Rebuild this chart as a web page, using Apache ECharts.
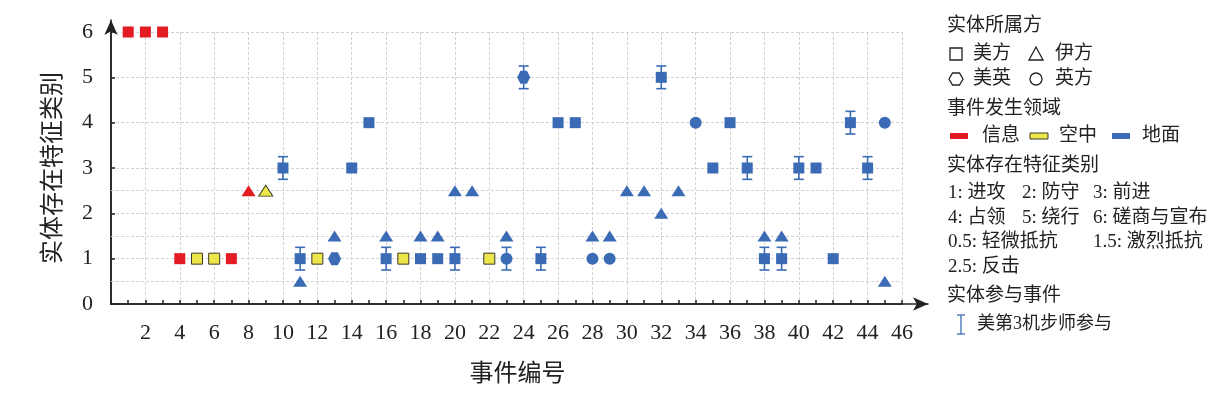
<!DOCTYPE html>
<html><head><meta charset="utf-8">
<script src="https://cdn.jsdelivr.net/npm/echarts@6/dist/echarts.min.js"></script>
<style>html,body{margin:0;padding:0;background:#fff}#c{width:1222px;height:395px}</style>
</head><body><div id="c"></div>
<script>
// ---- data ----
const pointX = [1,2,3,4,5,6,7,8,9,10,11,11,12,13,13,14,15,16,16,17,18,18,19,19,20,20,21,22,23,23,24,25,26,27,28,28,29,29,30,31,32,32,33,34,35,36,37,38,38,39,39,40,41,42,43,44,45,45];
const pointY = [6,6,6,1,1,1,1,2.5,2.5,3,1,0.5,1,1,1.5,3,4,1,1.5,1,1,1.5,1,1.5,1,2.5,2.5,1,1,1.5,5,1,4,4,1,1.5,1,1.5,2.5,2.5,5,2,2.5,4,3,4,3,1,1.5,1,1.5,3,3,1,4,3,4,0.5];
const pointParty = ['美方','美方','美方','美方','美方','美方','美方','伊方','伊方','美方','美方','伊方','美方','美英','伊方','美方','美方','美方','伊方','美方','美方','伊方','美方','伊方','美方','伊方','伊方','美方','英方','伊方','美英','美方','美方','美方','英方','伊方','英方','伊方','伊方','伊方','美方','伊方','伊方','英方','美方','美方','美方','美方','伊方','美方','伊方','美方','美方','美方','美方','美方','英方','伊方'];
const pointDomain = ['信息','信息','信息','信息','空中','空中','信息','信息','空中','地面','地面','地面','空中','地面','地面','地面','地面','地面','地面','空中','地面','地面','地面','地面','地面','地面','地面','空中','地面','地面','地面','地面','地面','地面','地面','地面','地面','地面','地面','地面','地面','地面','地面','地面','地面','地面','地面','地面','地面','地面','地面','地面','地面','地面','地面','地面','地面','地面'];
const errX = [10,11,16,20,23,24,25,32,37,38,39,40,43,44];
const errY = [3,1,1,1,1,5,1,5,3,1,1,3,4,3];
const errHalf = 0.25;
const resistLevels = [0.5,1.5,2.5];
const domains = ['信息','空中','地面'];
const yTicks = [0,1,2,3,4,5,6];

// ---- styles ----
const domainColor = {'信息':'#e31b23','空中':'#ece64b','地面':'#3b6bb5'};
const domainBorder = {'信息':null,'空中':'#3a3a2a','地面':null};
const hexPath = 'path://M-1,0 L-0.5,-0.866 L0.5,-0.866 L1,0 L0.5,0.866 L-0.5,0.866 Z';
const partySymbol = {'美方':'rect','伊方':'triangle','美英':hexPath,'英方':'circle'};
const partySize = {'美方':11,'伊方':[14,11],'美英':13,'英方':12};
const BLUE = '#3b6bb5';
const serif = '"Liberation Serif","Noto Sans CJK SC",serif';
const cjk = '"Liberation Serif","Noto Sans CJK SC",sans-serif';

const scatterSeries = domains.map((d, di) => {
  const data = [];
  pointX.forEach((x, i) => {
    if (pointDomain[i] !== d) return;
    const p = pointParty[i];
    data.push({value:[x, pointY[i]], symbol: partySymbol[p], symbolSize: partySize[p]});
  });
  const s = {
    type:'scatter', name:d, xAxisIndex:0, yAxisIndex:0, z:5,
    data,
    itemStyle:{color:domainColor[d], opacity:1,
      borderColor: domainBorder[d] || domainColor[d], borderWidth: domainBorder[d] ? 1 : 0}
  };
  if (di === 0) {
    s.markLine = {silent:true, symbol:['none','none'], label:{show:false},
      lineStyle:{type:[3,2], color:'#d2d2d2', width:1},
      data: resistLevels.map(v => ({yAxis:v}))};
  }
  return s;
});

const errSeries = {
  type:'custom', xAxisIndex:0, yAxisIndex:0, z:4,
  data: errX.map((x,i)=>[x, errY[i], errHalf]),
  renderItem(params, api){
    const x = api.value(0), y = api.value(1), h = api.value(2);
    const t = api.coord([x, y+h]), b = api.coord([x, y-h]);
    const w = 5, st = {stroke:BLUE, lineWidth:1.6};
    return {type:'group', children:[
      {type:'line', shape:{x1:t[0],y1:t[1],x2:b[0],y2:b[1]}, style:st},
      {type:'line', shape:{x1:t[0]-w,y1:t[1],x2:t[0]+w,y2:t[1]}, style:st},
      {type:'line', shape:{x1:b[0]-w,y1:b[1],x2:b[0]+w,y2:b[1]}, style:st}
    ]};
  }
};

// ---- legend graphics ----
const G = [];
function txt(x, y, s, size){
  G.push({type:'text', x, y, style:{text:s, font:(size||19)+'px '+cjk, fill:'#222',
    align:'left', verticalAlign:'middle', textAlign:'left', textVerticalAlign:'middle'}});
}
const outline = {fill:'none', stroke:'#222', lineWidth:1.3};
txt(947, 26, '实体所属方');
G.push({type:'rect', shape:{x:950, y:48, width:12, height:12}, style:outline});
txt(973, 54, '美方');
G.push({type:'polygon', shape:{points:[[1036,47],[1043,60],[1029,60]]}, style:outline});
txt(1055, 54, '伊方');
G.push({type:'polygon', shape:{points:[[949,79],[952.5,73],[959.5,73],[963,79],[959.5,85],[952.5,85]]}, style:outline});
txt(973, 79, '美英');
G.push({type:'circle', shape:{cx:1036, cy:79, r:6}, style:outline});
txt(1055, 79, '英方');
txt(947, 109, '事件发生领域');
G.push({type:'rect', shape:{x:950, y:133, width:18, height:6}, style:{fill:domainColor['信息']}});
txt(982, 136, '信息');
G.push({type:'rect', shape:{x:1030, y:133, width:18, height:6}, style:{fill:domainColor['空中'], stroke:'#3a3a2a', lineWidth:1}});
txt(1059, 136, '空中');
G.push({type:'rect', shape:{x:1112, y:133, width:18, height:6}, style:{fill:domainColor['地面']}});
txt(1142, 136, '地面');
txt(947, 166, '实体存在特征类别');
txt(948, 193, '1: 进攻'); txt(1022, 193, '2: 防守'); txt(1093, 193, '3: 前进');
txt(948, 218, '4: 占领'); txt(1022, 218, '5: 绕行'); txt(1093, 218, '6: 磋商与宣布');
txt(948, 242, '0.5: 轻微抵抗'); txt(1093, 242, '1.5: 激烈抵抗');
txt(948, 267, '2.5: 反击');
txt(947, 296, '实体参与事件');
G.push({type:'line', shape:{x1:961,y1:315,x2:961,y2:334}, style:{stroke:BLUE, lineWidth:1.3}});
G.push({type:'line', shape:{x1:957,y1:315,x2:965,y2:315}, style:{stroke:BLUE, lineWidth:1.3}});
G.push({type:'line', shape:{x1:957,y1:334,x2:965,y2:334}, style:{stroke:BLUE, lineWidth:1.3}});
txt(977, 324, '美第3机步师参与', 18);

const gridLine = {show:true, lineStyle:{type:[3,2], color:'#d2d2d2', width:1}};
const option = {
  animation:false,
  backgroundColor:'#fff',
  grid:[
    {left:111, right:320, top:32, bottom:91},
    {left:111, right:294, top:20, bottom:91}
  ],
  xAxis:[
    {type:'value', gridIndex:0, min:0, max:46, interval:2,
     name:'事件编号', nameLocation:'middle', nameGap:56,
     nameTextStyle:{fontFamily:'"Noto Sans CJK SC"', fontSize:24, color:'#222', padding:[0,0,0,22]},
     axisLine:{show:true, onZero:false, lineStyle:{color:'#222', width:1.5}},
     axisTick:{show:true, inside:true, length:4, lineStyle:{color:'#222', width:1.5}},
     minorTick:{show:true, splitNumber:2, length:4, lineStyle:{color:'#222', width:1.5}},
     axisLabel:{fontFamily:serif, fontSize:22, color:'#222', margin:18,
       formatter: v => v === 0 ? '' : String(v)},
     splitLine:gridLine},
    {type:'value', gridIndex:1, min:0, max:1, show:true,
     axisLine:{show:true, onZero:false, symbol:['none','arrow'], symbolSize:[10,15], lineStyle:{color:'#222', width:1.5}},
     axisTick:{show:false}, axisLabel:{show:false}, splitLine:{show:false}}
  ],
  yAxis:[
    {type:'value', gridIndex:0, min:yTicks[0], max:yTicks[yTicks.length-1], interval:1,
     name:'实体存在特征类别', nameLocation:'middle', nameGap:48, nameRotate:90,
     nameTextStyle:{fontFamily:'"Noto Sans CJK SC"', fontSize:24, color:'#222'},
     axisLine:{show:true, onZero:false, lineStyle:{color:'#222', width:1.5}},
     axisTick:{show:true, inside:true, length:4, lineStyle:{color:'#222', width:1.5}},
     axisLabel:{fontFamily:serif, fontSize:22, color:'#222', margin:18},
     splitLine:gridLine},
    {type:'value', gridIndex:1, min:0, max:1, show:true,
     axisLine:{show:true, onZero:false, symbol:['none','arrow'], symbolSize:[10,15], lineStyle:{color:'#222', width:1.5}},
     axisTick:{show:false}, axisLabel:{show:false}, splitLine:{show:false}}
  ],
  series:[errSeries, ...scatterSeries],
  graphic:G
};
const chart = echarts.init(document.getElementById('c'), null, {renderer:'canvas'});
chart.setOption(option);
</script></body></html>
